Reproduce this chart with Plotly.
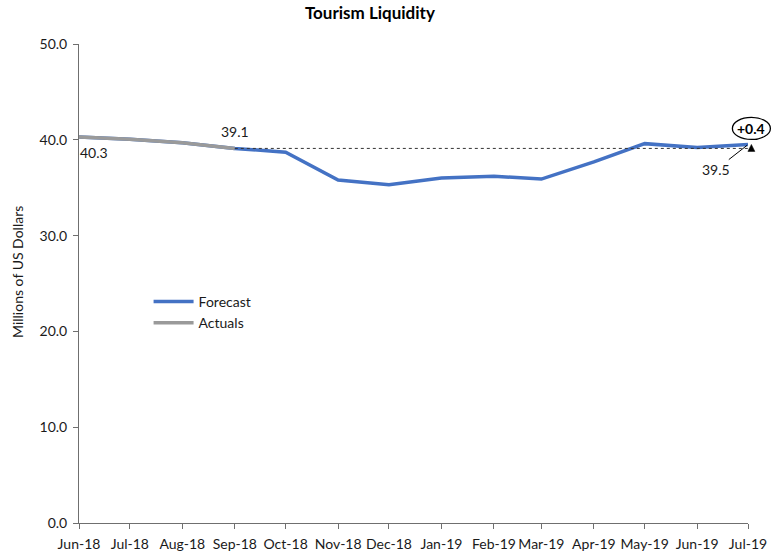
import plotly.graph_objects as go
from datetime import date

months = ["2018-06-01", "2018-07-01", "2018-08-01", "2018-09-01", "2018-10-01",
          "2018-11-01", "2018-12-01", "2019-01-01", "2019-02-01", "2019-03-01",
          "2019-04-01", "2019-05-01", "2019-06-01", "2019-07-01"]
tick_labels = ["Jun-18", "Jul-18", "Aug-18", "Sep-18", "Oct-18", "Nov-18", "Dec-18",
               "Jan-19", "Feb-19", "Mar-19", "Apr-19", "May-19", "Jun-19", "Jul-19"]
forecast = [40.3, 40.05, 39.7, 39.1, 38.7, 35.8, 35.3, 36.0, 36.2, 35.9, 37.7, 39.6, 39.2, 39.5]
actual_months = months[:4]
actuals = [40.3, 40.05, 39.7, 39.1]

baseline = actuals[-1]
latest = forecast[-1]
change = latest - baseline

FONT = "Lato, 'Open Sans', sans-serif"
BLUE = "#4472C4"
GRAY = "#9A9A9A"
TXT = "#1a1a1a"
AXIS = "#6f6f6f"

x_start, x_end = date.fromisoformat(months[0]), date.fromisoformat(months[-1])
marker_date = date(2019, 7, 3)  # just past the last month, outside the axis range


def paper_x(d):
    return (d - x_start).days / (x_end - x_start).days


mx = paper_x(marker_date)

fig = go.Figure()
fig.add_trace(go.Scatter(x=months, y=forecast, mode="lines", name="Forecast",
                         line=dict(color=BLUE, width=3.5)))
fig.add_trace(go.Scatter(x=actual_months, y=actuals, mode="lines", name="Actuals",
                         line=dict(color=GRAY, width=3.5)))

# dotted reference line at the last actual value
fig.add_shape(type="line", x0=paper_x(date.fromisoformat(actual_months[-1])), x1=mx - 0.001,
              y0=baseline, y1=baseline, xref="paper", yref="y",
              line=dict(color="#333333", width=1, dash="dot"))

# small triangle marking the reference level
fig.add_shape(type="path", xref="paper", yref="y", xsizemode="pixel", ysizemode="pixel",
              xanchor=mx, yanchor=baseline, path="M -3.5,-3 L 3.5,-3 L 0,4 Z",
              line=dict(color="black", width=0.5), fillcolor="black")

# ellipse around the change label
fig.add_shape(type="circle", xref="paper", yref="y", xsizemode="pixel", ysizemode="pixel",
              xanchor=mx, yanchor=baseline, x0=-19, x1=19, y0=9, y1=31,
              line=dict(color="black", width=1.3), fillcolor="white")

fig.add_annotation(x=mx, y=baseline, xref="paper", yref="y", yshift=20,
                   xanchor="center", yanchor="middle",
                   text=f"<b>{change:+.1f}</b>", showarrow=False,
                   font=dict(family=FONT, size=14, color="black"))
fig.add_annotation(x=actual_months[-1], y=actuals[-1], text=f"{actuals[-1]:.1f}",
                   showarrow=False, yshift=17, font=dict(family=FONT, size=14, color=TXT))
fig.add_annotation(x=months[0], y=forecast[0], text=f"{forecast[0]:.1f}",
                   showarrow=False, xshift=15, yshift=-16, font=dict(family=FONT, size=14, color=TXT))
fig.add_annotation(x=months[-1], y=latest, text=f"{latest:.1f}", showarrow=True,
                   arrowhead=0, arrowwidth=1, arrowcolor="black", ax=-32, ay=25, standoff=1,
                   font=dict(family=FONT, size=14, color=TXT))

# vertical axis caption
fig.add_annotation(x=0, y=0.524, xref="paper", yref="paper", xshift=-62,
                   xanchor="center", yanchor="middle", textangle=-90,
                   text="Millions of US Dollars", showarrow=False,
                   font=dict(family=FONT, size=14, color=TXT))

fig.update_layout(
    width=782, height=552,
    margin=dict(l=79, r=34, t=44, b=29),
    paper_bgcolor="white", plot_bgcolor="white",
    title=dict(text="<b>Tourism Liquidity</b>", x=0.473, xanchor="center", y=0.988, yanchor="top",
               font=dict(family=FONT, size=17, color="black")),
    font=dict(family=FONT, size=14, color=TXT),
    showlegend=True,
    legend=dict(x=0.104, y=0.495, xanchor="left", yanchor="top", bgcolor="rgba(0,0,0,0)",
                font=dict(family=FONT, size=14, color=TXT), tracegroupgap=0, itemwidth=40),
    xaxis=dict(type="date", range=[months[0], months[-1]], tickvals=months, ticktext=tick_labels,
               tickangle=0, ticklabelstandoff=3,
               showgrid=False, showline=True, linecolor=AXIS, linewidth=1,
               ticks="outside", tickcolor=AXIS, ticklen=5, zeroline=False, automargin=False,
               tickfont=dict(family=FONT, size=14, color=TXT)),
    yaxis=dict(range=[0, 50], tickvals=[0, 10, 20, 30, 40, 50], tickformat=".1f",
               ticklabelstandoff=3,
               showgrid=False, showline=True, linecolor=AXIS, linewidth=1,
               ticks="outside", tickcolor=AXIS, ticklen=5, zeroline=False, automargin=False,
               tickfont=dict(family=FONT, size=14, color=TXT)),
)

fig.write_html("out.html")
